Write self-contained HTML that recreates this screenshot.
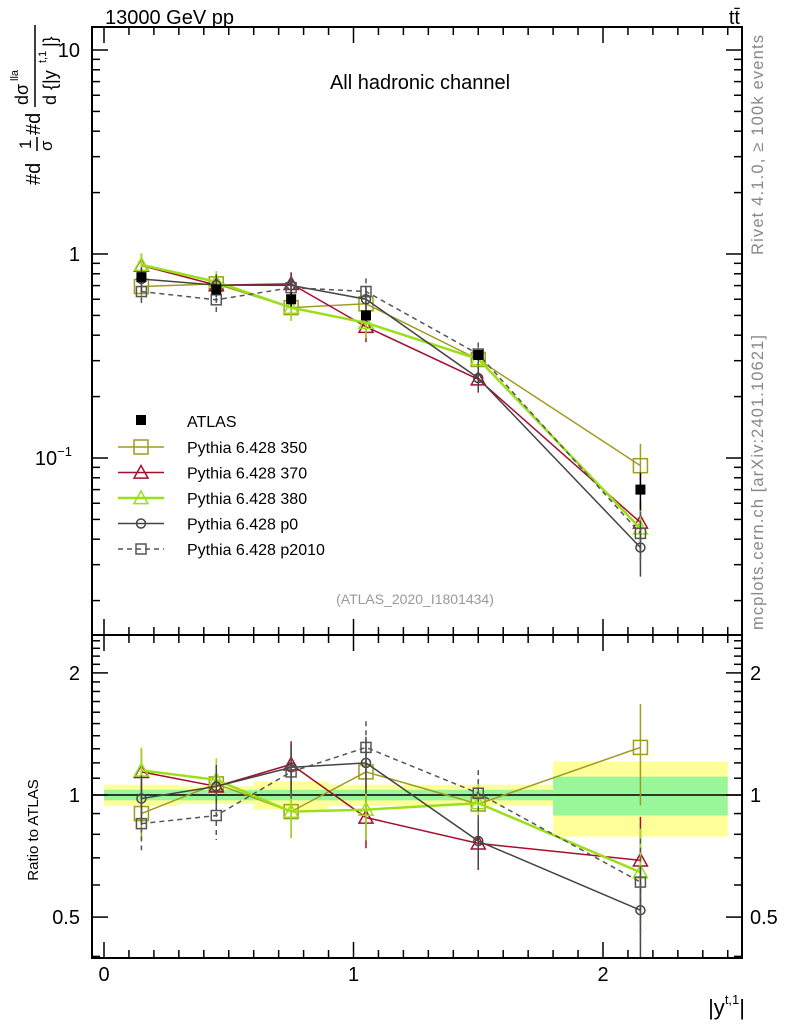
<!DOCTYPE html>
<html><head><meta charset="utf-8"><style>
body{margin:0;background:#fff}
svg{display:block;font-family:"Liberation Sans",sans-serif}
</style></head><body>
<svg id="c" width="786" height="1024" viewBox="0 0 786 1024">
<rect x="0" y="0" width="786" height="1024" fill="#fff"/>
<g id="bands"></g><g id="grid"></g><g id="series"></g>
<rect x="92" y="27" width="650" height="608" fill="none" stroke="#000" stroke-width="2"/>
<rect x="92" y="635" width="650" height="323" fill="none" stroke="#000" stroke-width="2"/>
<text x="105" y="24" font-size="20">13000 GeV pp</text>
<text x="740" y="24" font-size="20" text-anchor="end">tt̄</text>
<text x="420" y="89" font-size="20" text-anchor="middle">All hadronic channel</text>
<text x="415" y="604" font-size="14" fill="#999" text-anchor="middle">(ATLAS_2020_I1801434)</text>
<text transform="translate(763,255) rotate(-90)" font-size="16.5" fill="#888" textLength="220">Rivet 4.1.0, ≥ 100k events</text>
<text transform="translate(763,630) rotate(-90)" font-size="16.5" fill="#888" textLength="295">mcplots.cern.ch [arXiv:2401.10621]</text>
<g transform="translate(40,185) rotate(-90)">
<text x="0" y="0" font-size="20">#d</text><text x="36" y="-9" font-size="17">1</text><line x1="34" y1="-3" x2="48" y2="-3" stroke="#000" stroke-width="1.5"/><text x="34" y="12" font-size="17">σ</text>
<text x="50" y="0" font-size="20">#d</text><text x="80" y="-12" font-size="18">dσ</text><text x="104" y="-22" font-size="11">lla</text>
<line x1="78" y1="-5" x2="160" y2="-5" stroke="#000" stroke-width="1.5"/><text x="80" y="16" font-size="18">d {|y</text><text x="122" y="6" font-size="11">t,1</text><text x="138" y="16" font-size="18">|}</text></g>
<text transform="translate(38,830) rotate(-90)" font-size="15" text-anchor="middle">Ratio to ATLAS</text>
<text x="745" y="1015" font-size="22" text-anchor="end">|y<tspan font-size="13" dy="-11">t,1</tspan><tspan dy="11">|</tspan></text>
<g id="legend"></g>
</svg>
<script>
const xCenters=[0.15,0.45,0.75,1.05,1.5,2.15];
const binLo=[0,0.3,0.6,0.9,1.2,1.8];
const binHi=[0.3,0.6,0.9,1.2,1.8,2.5];
const atlas=[0.77,0.67,0.60,0.50,0.32,0.070];
const statRel=[0.03,0.03,0.03,0.03,0.03,0.11];
const totRel=[0.06,0.05,0.08,0.06,0.06,0.21];
const r350=[0.90,1.065,0.91,1.14,0.95,1.31];
const r370=[1.14,1.05,1.19,0.88,0.76,0.69];
const r380=[1.15,1.09,0.91,0.92,0.955,0.645];
const rp0=[0.98,1.05,1.17,1.20,0.77,0.52];
const rp2010=[0.85,0.89,1.14,1.31,1.01,0.61];
const mcErr=[0.14,0.13,0.14,0.16,0.14,0.28];
const xTicks=[0,1,2];
const mainTicks=[10,1,0.1];
const mainTickLabels=["10","1","10"];
const ratioTicks=[2,1,0.5];
const ratioTickLabels=["2","1","0.5"];
const series=[
{name:"Pythia 6.428 350",r:r350,col:"#a19b1f",w:1.5,mk:"sq",ms:7,dash:""},
{name:"Pythia 6.428 370",r:r370,col:"#a50f2d",w:1.5,mk:"tri",ms:7,dash:""},
{name:"Pythia 6.428 380",r:r380,col:"#99e01a",w:2.5,mk:"tri",ms:7,dash:""},
{name:"Pythia 6.428 p0",r:rp0,col:"#444",w:1.5,mk:"circ",ms:4.5,dash:""},
{name:"Pythia 6.428 p2010",r:rp2010,col:"#555",w:1.5,mk:"sq",ms:5,dash:"5,4"}];
const NS="http://www.w3.org/2000/svg";
const X=v=>104+v*249.5;
const YM=v=>254-Math.log10(v)*204;
const YR=v=>795-Math.log10(v)*405.6;
function mk(tag,a,p){const e=document.createElementNS(NS,tag);for(const k in a)e.setAttribute(k,a[k]);p.appendChild(e);return e;}
const bands=document.getElementById('bands'),grid=document.getElementById('grid'),ser=document.getElementById('series'),leg=document.getElementById('legend');
binLo.forEach((lo,i)=>{
 const y=mk('rect',{x:X(lo),y:YR(1+totRel[i]),width:X(binHi[i])-X(lo),height:YR(1-totRel[i])-YR(1+totRel[i]),fill:"#ffff99"},bands);
 
 
 const g=mk('rect',{x:X(lo),y:YR(1+statRel[i]),width:X(binHi[i])-X(lo),height:YR(1-statRel[i])-YR(1+statRel[i]),fill:"#99f799"},bands);
 
 
});
mk('line',{x1:92,x2:742,y1:YR(1),y2:YR(1),stroke:"#000","stroke-width":1.5},bands);
for(let d=-2;d<=1;d++)for(let m=1;m<10;m++){const v=m*Math.pow(10,d);const y=YM(v);if(y<28||y>634)continue;const L=m==1?16:8;
 mk('line',{x1:92,x2:92+L,y1:y,y2:y,stroke:"#000","stroke-width":1.5},grid);mk('line',{x1:742,x2:742-L,y1:y,y2:y,stroke:"#000","stroke-width":1.5},grid);}
mainTicks.forEach((v,i)=>{const t=mk('text',{x:80,y:YM(v)+7,"font-size":20,"text-anchor":"end"},grid);t.textContent=mainTickLabels[i];
 
 if(v<1){t.setAttribute('x',72);const s=mk('tspan',{"font-size":13,dy:-9},t);s.textContent="−1";}});
for(let v=0.4;v<=2.5;v+=0.1){const y=YR(v);if(y<636||y>957)continue;const major=[0.5,1,2].some(q=>Math.abs(q-v)<1e-6);const L=major?16:8;
 mk('line',{x1:92,x2:92+L,y1:y,y2:y,stroke:"#000","stroke-width":1.5},grid);mk('line',{x1:742,x2:742-L,y1:y,y2:y,stroke:"#000","stroke-width":1.5},grid);}
ratioTicks.forEach((v,i)=>{[[80,"end"],[750,"start"]].forEach(([x,a])=>{const t=mk('text',{x:x,y:YR(v)+7,"font-size":20,"text-anchor":a},grid);t.textContent=ratioTickLabels[i];
 });});
for(let v=0;v<=2.5001;v+=0.1){const major=Math.abs(v-Math.round(v))<1e-6;const L=major?16:8;const x=X(v);
 [[958,-1],[635,1],[635,-1],[27,1]].forEach(([y0,s])=>mk('line',{x1:x,x2:x,y1:y0,y2:y0+s*L,stroke:"#000","stroke-width":1.5},grid));}
xTicks.forEach(v=>{const t=mk('text',{x:X(v),y:981,"font-size":20,"text-anchor":"middle"},grid);t.textContent=String(v);
 });
function marker(p,type,x,y,s,col,w){
 if(type=="sq")return mk('rect',{x:x-s,y:y-s,width:2*s,height:2*s,fill:"none",stroke:col,"stroke-width":w},p);
 if(type=="circ")return mk('circle',{cx:x,cy:y,r:s,fill:"none",stroke:col,"stroke-width":w},p);
 return mk('polygon',{points:`${x},${y-s} ${x-s},${y+s*0.8} ${x+s},${y+s*0.8}`,fill:"none",stroke:col,"stroke-width":w},p);}
series.forEach(s=>{
 const g=mk('g',{},ser);
 
 
 const vals=s.r.map((r,i)=>r*atlas[i]);
 [[YM,vals],[YR,s.r]].forEach(([Y,arr])=>{
  const pts=arr.map((v,i)=>X(xCenters[i])+","+Y(v)).join(" ");
  mk('polyline',{points:pts,fill:"none",stroke:s.col,"stroke-width":s.w,"stroke-dasharray":s.dash},g);
  arr.forEach((v,i)=>{const x=X(xCenters[i]);
   mk('line',{x1:x,x2:x,y1:Y(v*(1+mcErr[i])),y2:Math.min(Y(v*(1-mcErr[i])),Y===YR?958:635),stroke:s.col,"stroke-width":1.5,"stroke-dasharray":s.dash},g);
   const m=marker(g,s.mk,x,Y(v),s.ms,s.col,1.5);
   
   });
 });
});
atlas.forEach((v,i)=>{const x=X(xCenters[i]),y=YM(v);
 mk('line',{x1:x,x2:x,y1:YM(v*(1+totRel[i])),y2:YM(v*(1-totRel[i])),stroke:"#000","stroke-width":1.5},ser);
 const r=mk('rect',{x:x-5,y:y-5,width:10,height:10,fill:"#000"},ser);
 
 });
const lr=mk('rect',{x:136,y:415,width:10,height:10,fill:"#000"},leg);


const lt=mk('text',{x:187,y:427,"font-size":16},leg);lt.textContent="ATLAS";

series.forEach((s,i)=>{const y=447+i*25.5;
 mk('line',{x1:118,x2:164,y1:y,y2:y,stroke:s.col,"stroke-width":s.w,"stroke-dasharray":s.dash},leg);
 marker(leg,s.mk,141,y,s.ms,s.col,1.5);
 const t=mk('text',{x:187,y:y+6,"font-size":16},leg);t.textContent=s.name;
 
 });
</script>
</body></html>
